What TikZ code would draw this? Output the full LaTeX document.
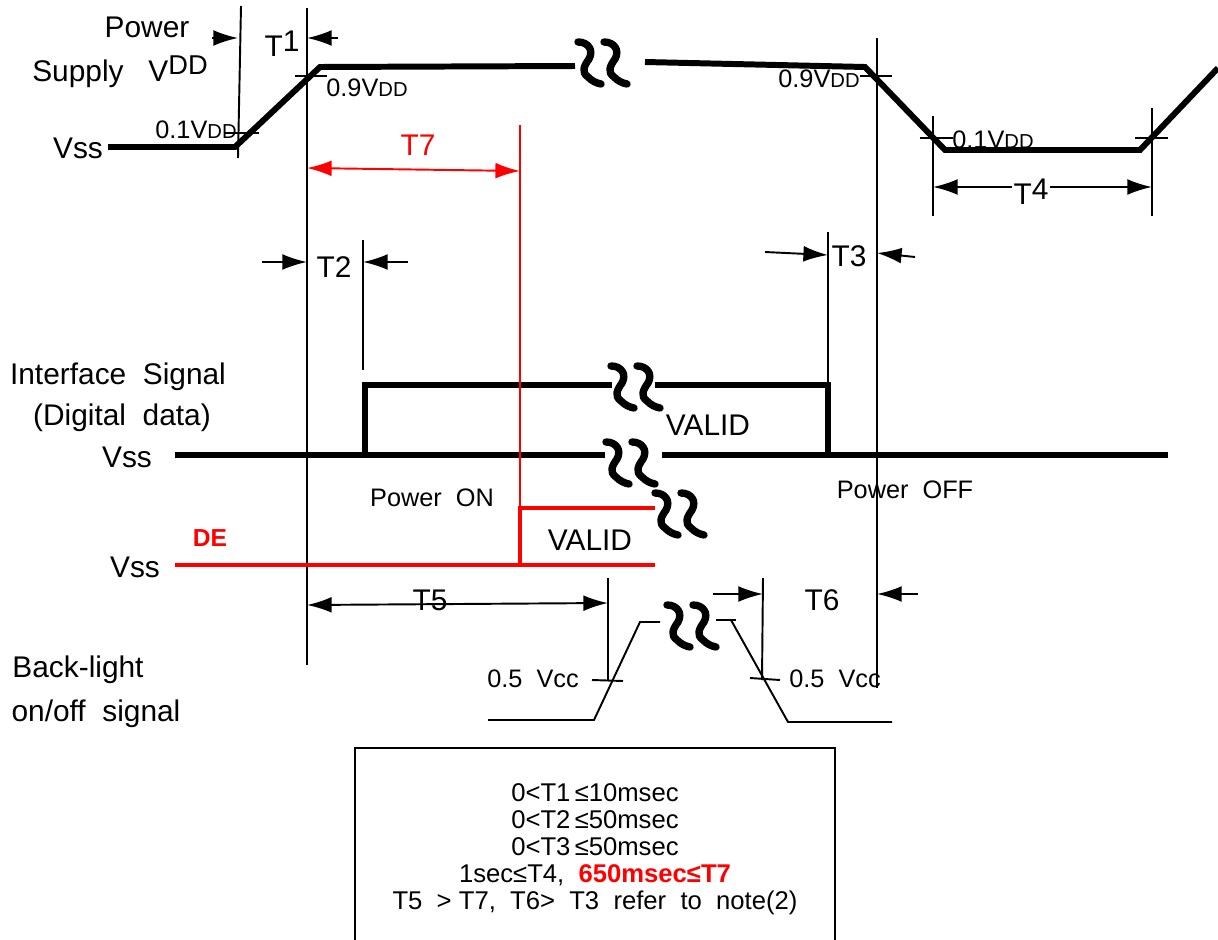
\documentclass[tikz,border=0pt]{standalone}
\usepackage{fontspec}
\setmainfont{Liberation Sans}
\usetikzlibrary{arrows.meta}
\newcommand\vdd{V{\fontsize{11.5}{12}\selectfont DD}}
\newcommand\vddup{V\raisebox{4pt}{\fontsize{15.5}{16}\selectfont DD}}
\tikzset{brk/.pic={
  \foreach \d in {0,26}
    \draw[line width=4.2pt,line cap=round]
      (\d,0) .. controls ({\d+10},0) and ({\d+16},8) .. ({\d+11},17)
      .. controls ({\d+6},24) and ({\d+3},30) .. ({\d+10},35)
      .. controls ({\d+14},39) and ({\d+18},41) .. ({\d+23},42);}}
\begin{document}
\begin{tikzpicture}[x=.02cm,y=-.02cm,>={Latex[length=14pt,width=9pt]},
  guide/.style={line width=1.1pt},
  wave/.style={line width=3.4pt},
  lbl/.style={font=\fontsize{17}{20}\selectfont},
  sml/.style={font=\fontsize{14.4}{17}\selectfont}]
      \useasboundingbox (0,0) rectangle (1218,940);
      % power supply
      \draw[wave](108,147)--(235,147)--(320,67)--(575,66);
      \draw[wave](645,62)--(865,67)--(945,150)--(1140,150)--(1218,68);
      \pic at(578,42){brk};
      \draw[guide](241,6)--(238,158);
      \draw[guide](307,8)--(307,665);
      \draw[guide](877,38)--(877,688);
      \draw[guide](933,116)--(933,216);
      \draw[guide](1152,108)--(1152,216);
      \draw[guide](225,133)--(259,133);
      \draw[guide](295,76)--(327,76);
      \draw[guide](860,76)--(892,76);
      \draw[guide](920,138)--(953,138);
      \draw[guide](1135,138)--(1168,138);
      \draw[guide,->](212,38)--(238,38);
      \draw[guide,->](338,38)--(307,38);
      \draw[guide,red,<->](307,168)--(520,171);
      \draw[guide,<->](933,187)--(1152,187);
      \node[lbl](pw) at(147,27){Power};
      \node[lbl](sup) at(120,72){Supply\ \ \ \vddup};
      \node[lbl](vss1) at(78,148){Vss};
      \node[sml](lo1) at(196,130){0.1\vdd};
      \node[sml](hi1) at(367,88){0.9\vdd};
      \node[sml](hi2) at(819,79){0.9\vdd};
      \node[sml](lo2) at(993,140){0.1\vdd};
      \node[lbl](t1) at(282,44){T\raisebox{3pt}{1}};
      \node[lbl,text=red](t7) at(418,145){T7};
      \node[lbl,fill=white,inner sep=1pt](t4) at(1031,192){T\raisebox{3pt}{4}};
      % T2, T3
      \draw[guide](363,240)--(363,370);
      \draw[guide,->](262,262)--(307,262);
      \draw[guide,->](408,262)--(363,262);
      \draw[guide](828,232)--(828,385);
      \draw[guide,->](765,252)--(828,255);
      \draw[guide,->](915,257)--(877,253);
      \node[lbl](t2) at(334,267){T2};
      \node[lbl](t3) at(849,256){T3};
      % interface signal
      \draw[wave](175,455)--(605,455);
      \draw[wave](365,455)--(365,385)--(612,385);
      \draw[wave](655,385)--(828,385)--(828,455);
      \draw[wave](662,455)--(1168,455);
      \pic at(611,366){brk};
      \pic at(606,442){brk};
      \node[lbl](ifs) at(118,377){Interface\ \ Signal};
      \node[lbl](dig) at(122,418){(Digital\ \ data)};
      \node[lbl](vss2) at(127,457){Vss};
      \node[lbl](val1) at(708,425){VALID};
      \node[sml](pon) at(432,498){Power\ \ ON};
      \node[sml](poff) at(905,490){Power\ \ OFF};
      % DE
      \draw[red,line width=2.8pt](175,565)--(655,565);
      \draw[red,line width=2.6pt](520,565)--(520,508)--(655,508);
      \draw[guide,red](520,125)--(520,508);
      \pic at(655,493){brk};
      \node[font=\fontsize{14}{16}\selectfont\bfseries,text=red](de) at(210,538){DE};
      \node[lbl](vss3) at(135,567){Vss};
      \node[lbl](val2) at(590,540){VALID};
      % back-light
      \draw[guide](488,720)--(594,720)--(640,622)--(660,622);
      \draw[guide](716,620)--(736,620);
      \draw[guide](731,620)--(788,722)--(892,722);
      \pic at(667,605){brk};
      \draw[guide](592,680)--(623,681);
      \draw[guide](750,678)--(780,680);
      \draw[guide](608,578)--(608,680);
      \draw[guide](763,578)--(762,680);
      \draw[guide,<->](307,605)--(608,603);
      \draw[guide,->](713,594)--(763,594);
      \draw[guide,->](918,594)--(877,594);
      \node[lbl](t5) at(430,600){T5};
      \node[lbl](t6) at(822,600){T6};
      \node[lbl](bl) at(78,670){Back-light};
      \node[lbl](onoff) at(96,714){on/off\ \ signal};
      \node[sml](vc1) at(533,679){0.5\ \ Vcc};
      \node[sml](vc2) at(835,679){0.5\ \ Vcc};
      % notes
      \draw[guide](355,940)--(355,748)--(835,748)--(835,940);
      \node[align=center,font=\fontsize{14.6}{15.3}\selectfont](notes) at(595,849){%
        0<T1\,≤10msec\\0<T2\,≤50msec\\0<T3\,≤50msec\\
        1sec≤T4,\ \ {\color{red}\bfseries 650msec≤T7}\\
        T5\ \ >\ T7,\ \ T6>\ \ T3\ \ refer\ \ to\ \ note(2)};
  \end{tikzpicture}
\end{document}
